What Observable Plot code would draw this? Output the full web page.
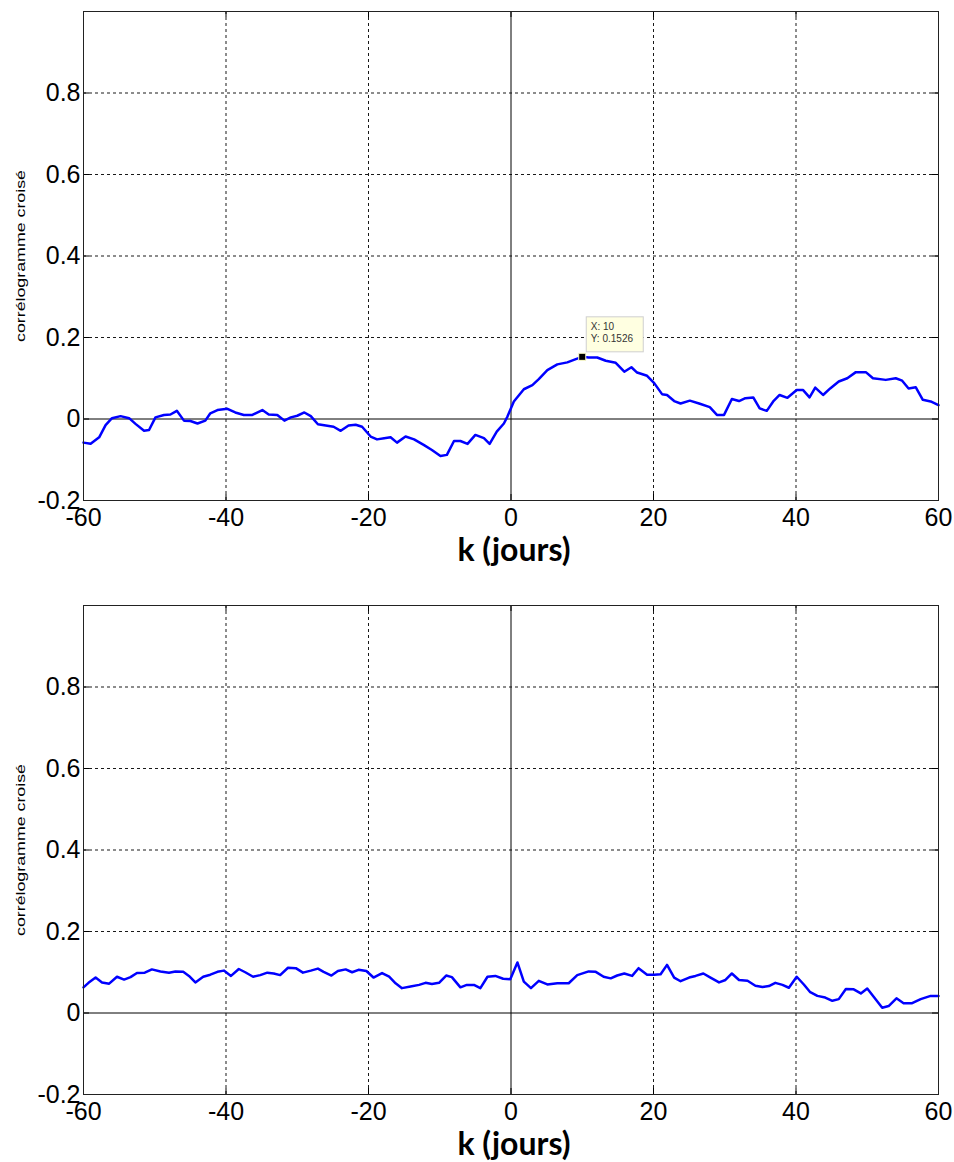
<!DOCTYPE html>
<html><head><meta charset="utf-8">
<script src="https://cdn.jsdelivr.net/npm/d3@7"></script>
<script src="https://cdn.jsdelivr.net/npm/@observablehq/plot@0.6"></script>
<style>
html,body{margin:0;padding:0;background:#fff;}
#fig{position:relative;width:954px;height:1162px;overflow:hidden;background:#fff;}
#fig svg{position:absolute;left:0;overflow:visible;}
</style></head><body><div id="fig"></div>
<script>
// ---- data ----
const kTop = [-60, -59, -57.8, -56.9, -56, -54.8, -53.6, -52.7, -51.5, -50.8,
  -49.9, -48.7, -47.8, -46.9, -45.9, -45, -44, -42.9, -42.2, -41.2,
  -39.8, -38.7, -37.5, -36.3, -34.9, -34, -32.8, -31.8, -30.9, -30,
  -29, -28.1, -27.1, -26, -24.9, -23.9, -22.8, -21.8, -20.9, -19.7,
  -18.8, -17.8, -16.9, -16, -14.8, -13.6, -12.2, -11.1, -9.9, -9,
  -8, -7.1, -6.1, -5, -3.8, -3, -2, -1, -0.5, 0.4,
  1.8, 3, 3.9, 5.1, 6.5, 7.9, 9.1, 10, 10.9, 12.1,
  13.3, 14.7, 15.9, 16.9, 17.7, 19.1, 20.1, 21.2, 21.9, 22.9,
  23.8, 25.1, 26.4, 27.9, 28.9, 29.9, 31, 32, 32.9, 34,
  34.9, 35.9, 36.8, 37.7, 38.8, 40.1, 41, 41.9, 42.7, 43.8,
  44.8, 46, 47.2, 48.4, 49.8, 50.8, 52.6, 54, 54.9, 55.8,
  56.8, 57.8, 58.9, 60];
const corrTop = [-0.058, -0.061, -0.045, -0.015, 0.002, 0.007, 0.002, -0.012, -0.029, -0.027,
  0.004, 0.01, 0.011, 0.02, -0.004, -0.005, -0.011, -0.004, 0.014, 0.022,
  0.025, 0.016, 0.01, 0.01, 0.022, 0.011, 0.01, -0.004, 0.004, 0.008,
  0.016, 0.007, -0.013, -0.016, -0.019, -0.029, -0.016, -0.014, -0.019, -0.043,
  -0.05, -0.047, -0.045, -0.058, -0.043, -0.05, -0.064, -0.076, -0.091, -0.088,
  -0.054, -0.054, -0.061, -0.039, -0.047, -0.061, -0.031, -0.011, 0.006, 0.043,
  0.073, 0.083, 0.098, 0.12, 0.134, 0.139, 0.147, 0.1526, 0.151, 0.151,
  0.143, 0.138, 0.116, 0.127, 0.114, 0.106, 0.088, 0.061, 0.059, 0.044,
  0.038, 0.045, 0.038, 0.029, 0.01, 0.01, 0.049, 0.044, 0.051, 0.053,
  0.026, 0.02, 0.043, 0.059, 0.052, 0.071, 0.071, 0.053, 0.077, 0.059,
  0.075, 0.092, 0.1, 0.115, 0.115, 0.1, 0.096, 0.1, 0.094, 0.075,
  0.078, 0.047, 0.043, 0.034];

const kBottom = [-60, -59.3, -58.3, -57.4, -56.4, -55.3, -54.3, -53.4, -52.5, -51.4,
  -50.4, -49.2, -48, -47.1, -46, -45.2, -44.3, -43.2, -42.2, -41.2,
  -40.3, -39.3, -38.2, -37.3, -36.2, -35.2, -34.2, -33.3, -32.4, -31.3,
  -30.2, -29.2, -28.1, -27.1, -26.3, -25.2, -24.3, -23.2, -22.3, -21.4,
  -20.3, -19.3, -18.1, -17.1, -16.2, -15.3, -14.1, -12.9, -12, -11.1,
  -10.1, -9.1, -8.3, -7.1, -6.2, -5.2, -4.3, -3.3, -2.2, -1.1,
  -0.1, 0.9, 1.8, 2.8, 3.9, 5.1, 6.5, 8.1, 9.3, 10.9,
  11.9, 13, 14, 14.9, 15.9, 17, 17.9, 19.1, 20.1, 21,
  21.9, 22.9, 23.8, 25, 25.9, 27, 28, 29.2, 30.1, 31,
  32, 33.2, 34.3, 35.3, 36.2, 37.1, 38.1, 39, 40.1, 41.1,
  42, 43, 44.1, 45.1, 46, 47, 48.1, 49.1, 50, 50.9,
  52.1, 53, 54.1, 55.1, 56.3, 57.5, 58.9, 60];
const corrBottom = [0.063, 0.074, 0.087, 0.075, 0.072, 0.089, 0.082, 0.088, 0.098, 0.099,
  0.107, 0.102, 0.099, 0.102, 0.101, 0.091, 0.075, 0.089, 0.094, 0.101,
  0.104, 0.091, 0.108, 0.1, 0.089, 0.093, 0.099, 0.097, 0.093, 0.111,
  0.11, 0.099, 0.104, 0.109, 0.101, 0.092, 0.103, 0.107, 0.1, 0.106,
  0.103, 0.087, 0.098, 0.089, 0.073, 0.061, 0.065, 0.069, 0.074, 0.071,
  0.074, 0.092, 0.088, 0.063, 0.069, 0.069, 0.061, 0.089, 0.091, 0.084,
  0.083, 0.124, 0.077, 0.061, 0.079, 0.07, 0.073, 0.073, 0.093, 0.102,
  0.101, 0.089, 0.085, 0.092, 0.097, 0.091, 0.11, 0.094, 0.094, 0.095,
  0.118, 0.087, 0.078, 0.087, 0.091, 0.097, 0.087, 0.075, 0.081, 0.097,
  0.081, 0.079, 0.067, 0.064, 0.066, 0.074, 0.069, 0.062, 0.089, 0.07,
  0.051, 0.042, 0.038, 0.03, 0.034, 0.059, 0.058, 0.048, 0.06, 0.04,
  0.013, 0.017, 0.036, 0.024, 0.024, 0.034, 0.042, 0.042];

const tipK = 10;
const tipCorr = 0.1526;

const xTicks = [-60, -40, -20, 0, 20, 40, 60];
const yTicks = [-0.2, 0, 0.2, 0.4, 0.6, 0.8];
const xGridTicks = [-40, -20, 20, 40];
const yGridTicks = [0.2, 0.4, 0.6, 0.8];
const xLabel = "k (jours)";
const yLabel = "corrélogramme croisé";

// ---- drawing ----
const W = 954, ML = 83, MR = 16, MT = 11, PH = 489;
const PW = W - ML - MR;
const tickFont = "'Liberation Sans', Arial, sans-serif";

function panel(k, corr, height, tip) {
  const rows = k.map((d, i) => ({k: d, v: corr[i]}));
  const mb = height - MT - PH;
  const marks = [
    Plot.gridX(xGridTicks, {stroke: "#000", strokeOpacity: 0.9, strokeWidth: 1, strokeDasharray: "3,3"}),
    Plot.gridY(yGridTicks, {stroke: "#000", strokeOpacity: 0.9, strokeWidth: 1, strokeDasharray: "3,3"}),
    Plot.ruleX([0], {stroke: "#000", strokeWidth: 1}),
    Plot.ruleY([0], {stroke: "#000", strokeWidth: 1}),
    Plot.tickX(xTicks, {x: d => d, insetTop: PH - 6, stroke: "#000"}),
    Plot.tickX(xTicks, {x: d => d, insetBottom: PH - 6, stroke: "#000"}),
    Plot.tickY(yTicks, {y: d => d, insetRight: PW - 6, stroke: "#000"}),
    Plot.tickY(yTicks, {y: d => d, insetLeft: PW - 6, stroke: "#000"}),
    Plot.line(rows, {x: "k", y: "v", stroke: "#0000ff", strokeWidth: 2.5, strokeLinejoin: "round"}),
    Plot.frame({stroke: "#222", strokeWidth: 1}),
    Plot.axisX(xTicks, {tickSize: 0, tickPadding: 8, fontSize: 25, fontFamily: tickFont, tickFormat: d => String(d), label: null}),
    Plot.axisY(yTicks, {tickSize: 0, tickPadding: 3, fontSize: 25, fontFamily: tickFont, tickFormat: d => String(d), label: null}),
    Plot.text([xLabel], {text: d => d, frameAnchor: "bottom", dy: 60, dx: 3, fontSize: 32, fontWeight: "bold", fontFamily: "Lato, 'Open Sans', sans-serif", fill: "#000"}),
    Plot.text([yLabel], {text: d => d, frameAnchor: "left", dx: -63, dy: 86, rotate: -90, textAnchor: "start", fontSize: 13.5, fontFamily: tickFont, fill: "#000"})
  ];
  if (tip) {
    marks.push(Plot.dot([{k: tipK, v: tipCorr}], {x: "k", y: "v", symbol: "square", r: 4, fill: "#000", stroke: "#ffffcc", strokeWidth: 1}));
  }
  return Plot.plot({
    width: W, height,
    marginTop: MT, marginBottom: mb, marginLeft: ML, marginRight: MR,
    x: {domain: [-60, 60]},
    y: {domain: [-0.2, 1.0]},
    style: {background: "transparent", color: "#000", fontFamily: tickFont},
    marks
  });
}

const fig = document.getElementById("fig");
const p1 = panel(kTop, corrTop, 593, true);
p1.style.top = "0px";
fig.appendChild(p1);
const p2 = panel(kBottom, corrBottom, 568, false);
p2.style.top = "594px";
fig.appendChild(p2);

for (const p of [p1, p2]) {
  d3.select(p).selectAll("text").filter(function () { return this.textContent === yLabel; })
    .attr("textLength", 172).attr("lengthAdjust", "spacingAndGlyphs");
}

// data tip box anchored to the tip point through the plot's own scales
const px = p1.scale("x").apply(tipK), py = p1.scale("y").apply(tipCorr);
const g = d3.select(p1).append("g").attr("font-family", tickFont).attr("font-size", 10)
  .attr("fill", "#333").attr("text-anchor", "start");
g.append("rect").attr("x", px + 4.5).attr("y", py - 39.5).attr("width", 57).attr("height", 35)
  .attr("fill", "#ffffe1").attr("stroke", "#cfcfcf");
g.append("text").attr("x", px + 9).attr("y", py - 26.5).text(`X: ${tipK}`);
g.append("text").attr("x", px + 9).attr("y", py - 14.5).text(`Y: ${tipCorr}`);
</script></body></html>
